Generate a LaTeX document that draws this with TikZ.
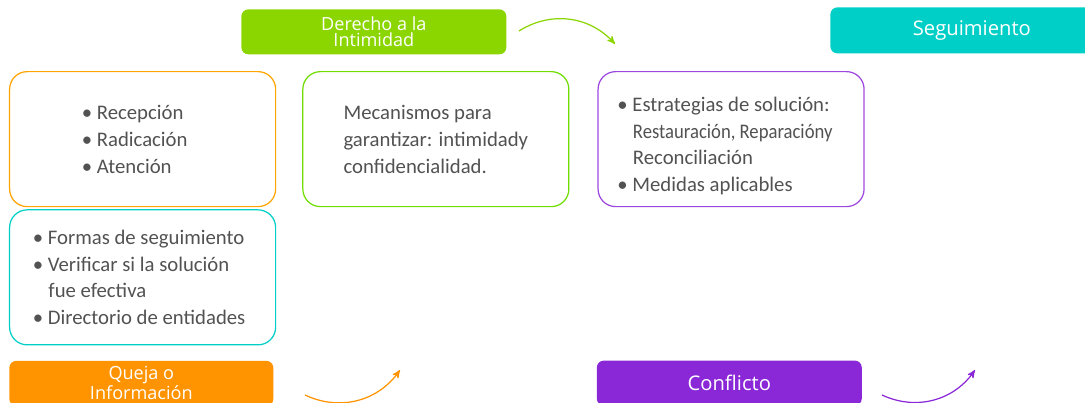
\documentclass[tikz,border=0pt]{standalone}
\usepackage{fontspec}
\setmainfont{Carlito}
\newfontfamily\headfont{Open Sans}
\usepackage{tikz}
\usetikzlibrary{arrows}
\usetikzlibrary{positioning}
\definecolor{lima}{RGB}{139,213,0}
\definecolor{turquesa}{RGB}{0,207,199}
\definecolor{naranja}{RGB}{255,148,0}
\definecolor{morado}{RGB}{138,40,216}
\definecolor{texto}{RGB}{82,82,82}
\tikzset{auto,>=stealth', node distance=1cm, font=\fontsize{11.8}{15.3}\selectfont}
\tikzstyle{lista} = [draw, line width=0.7pt, rounded corners=10pt, rectangle, minimum width=5.32cm, minimum height=2.7cm, align=left, text=texto, anchor=north west]
\tikzstyle{titulo} = [rectangle, rounded corners=4pt, minimum width=5.3cm, minimum height=0.9cm, text=white, align=center, anchor=north west, font=\headfont\fontsize{11.5}{9}\selectfont]
\tikzstyle{doble} = [font=\headfont\fontsize{10.3}{8.8}\selectfont]
\tikzstyle{flecha} = [->, line width=0.7pt]
\tikzstyle{punto} = [coordinate]

\begin{document}
\begin{tikzpicture}
        \useasboundingbox (0,0) rectangle (21.7,-8.04);
        \node [lista, draw=naranja!85!yellow] (recepcion) at (0.18,-1.42) {\textbullet\ Recepción\rule{0.4cm}{0pt}\\ \textbullet\ Radicación\\ \textbullet\ Atención};
        \node [lista, draw=turquesa, below=0.04cm of recepcion] (seguimiento) {\textbullet\ Formas de seguimiento\rule{0.16cm}{0pt}\\ \textbullet\ Verificar si la solución\\ \hspace*{0.75em}fue efectiva\\ \textbullet\ Directorio de entidades};
        \node [lista, draw=lima!80!green, right=0.52cm of recepcion] (mecanismos) {Mecanismos para\\ garantizar: intimidady\\ confidencialidad.};
        \node [lista, draw=morado!85!white, right=0.56cm of mecanismos] (estrategias) {\rule{0pt}{16pt}\textbullet\ Estrategias de solución:\rule{0.3cm}{0pt}\\ \hspace*{0.75em}\scalebox{0.9}[1]{Restauración, Reparacióny}\\ \hspace*{0.75em}Reconciliación\\ \textbullet\ Medidas aplicables};

        \node [titulo, doble, fill=lima] (derecho) at (4.82,-0.18) {Derecho a la\\ Intimidad};
        \node [titulo, fill=turquesa, minimum width=5.66cm, minimum height=0.92cm] (seg_t) at (16.6,-0.14) {Seguimiento};
        \node [titulo, doble, fill=naranja, minimum width=5.28cm, below right=0.3cm and 0cm of seguimiento.south west] (queja) {Queja o\\ Información};
        \node [titulo, fill=morado, below right=3.06cm and -0.02cm of estrategias.south west] (conflicto) {Conflicto};

        \node [punto] (d_a) at (10.38,-0.62) {};
        \node [punto] (d_b) at (12.3,-0.88) {};
        \node [punto] (q_a) at (6.1,-7.9) {};
        \node [punto] (q_b) at (8.0,-7.4) {};
        \node [punto] (c_a) at (17.64,-7.9) {};
        \node [punto] (c_b) at (19.5,-7.4) {};

        \draw [flecha, lima] (d_a) to [bend left=40] (d_b);
        \draw [flecha, naranja] (q_a) to [bend right=40] (q_b);
        \draw [flecha, morado] (c_a) to [bend right=40] (c_b);
    \end{tikzpicture}
\end{document}
